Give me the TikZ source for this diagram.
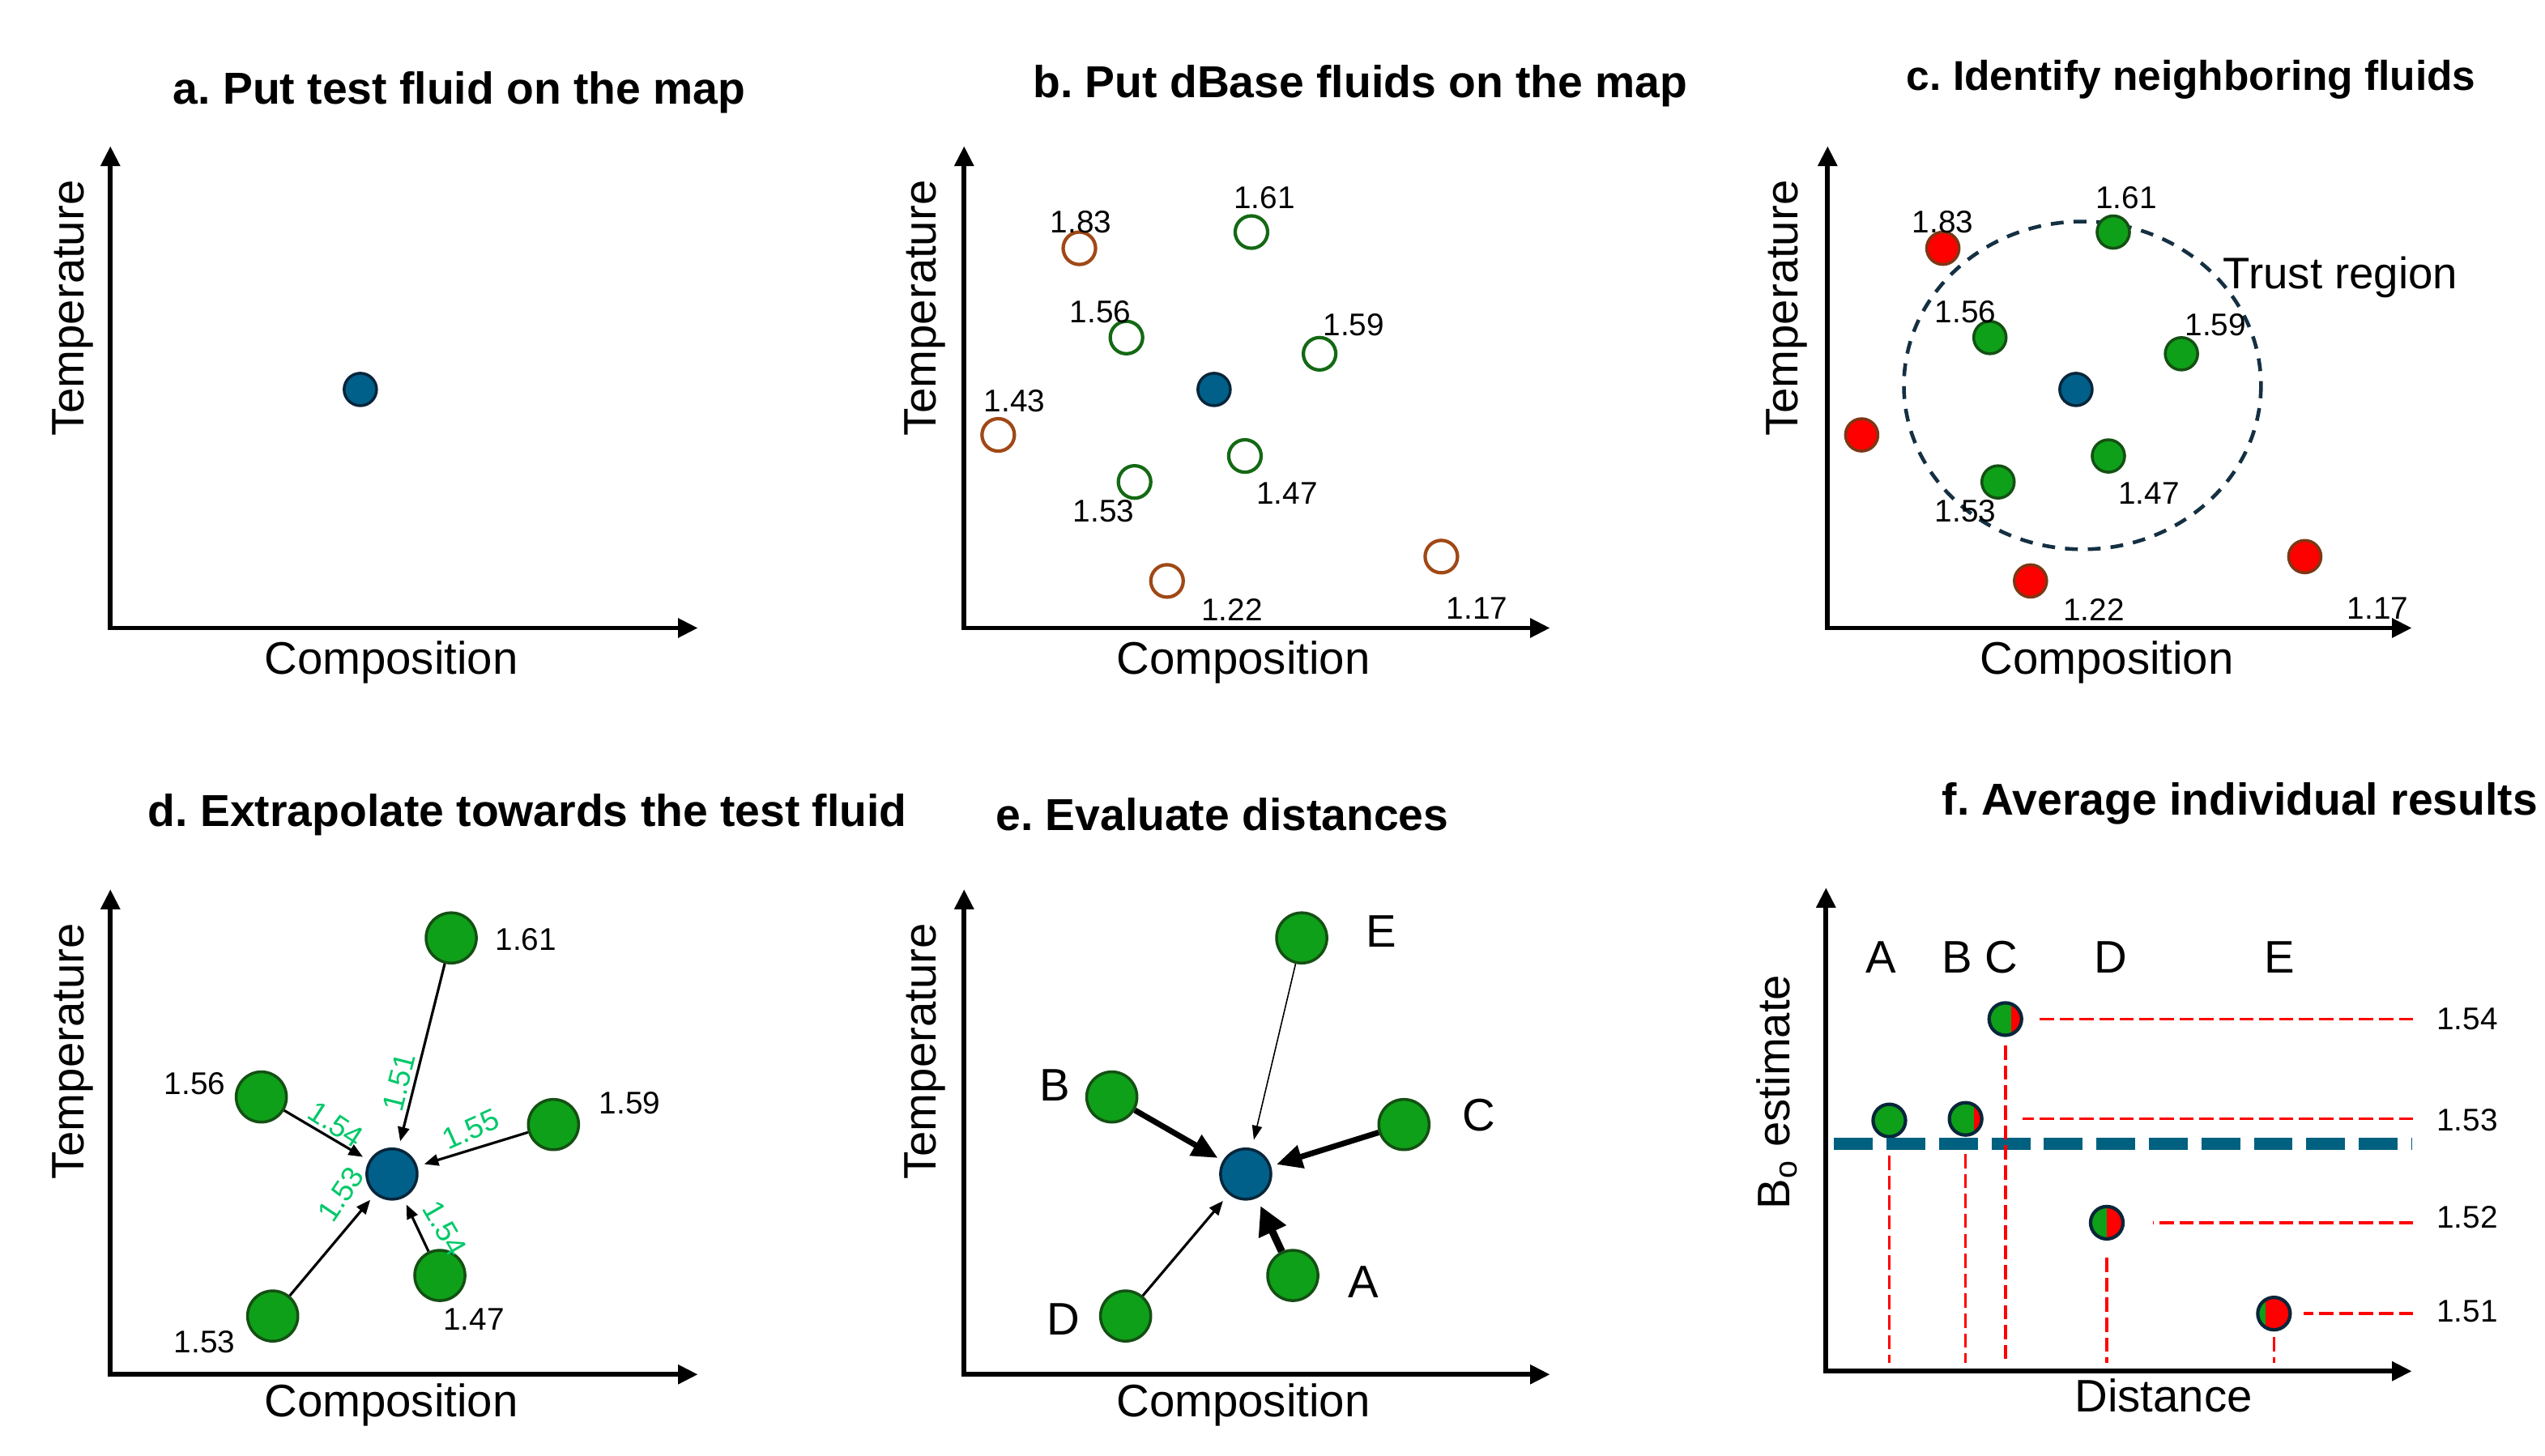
\documentclass[tikz,border=0pt]{standalone}
\usepackage{fontspec}
\setmainfont{Liberation Sans}
\usepackage{tikz}
\usetikzlibrary{arrows.meta}
\usetikzlibrary{positioning}
\frenchspacing

\definecolor{fluidblue}{RGB}{0,96,138}
\definecolor{fluidedge}{RGB}{8,38,58}
\definecolor{dbgreen}{RGB}{20,105,20}
\definecolor{dbbrown}{RGB}{160,72,22}
\definecolor{okgreen}{RGB}{14,160,24}
\definecolor{okedge}{RGB}{20,80,20}
\definecolor{badred}{RGB}{255,0,0}
\definecolor{badedge}{RGB}{125,55,20}
\definecolor{trustline}{RGB}{20,48,66}
\definecolor{estgreen}{RGB}{0,200,105}
\definecolor{avgblue}{RGB}{0,96,128}

\begin{document}
\begin{tikzpicture}[
    x=0.02cm, y=-0.02cm,
    axis/.style={line width=1.7pt, {Triangle[length=7pt,width=6.5pt]}-{Triangle[length=7pt,width=6.5pt]}},
    ptitle/.style={font=\bfseries\fontsize{15.7}{18}\selectfont},
    axlabel/.style={font=\fontsize{16}{19}\selectfont},
    val/.style={font=\fontsize{11}{13}\selectfont, inner sep=1pt},
    est/.style={font=\fontsize{10.5}{12}\selectfont, text=estgreen, inner sep=0pt},
    letter/.style={font=\fontsize{16}{19}\selectfont, inner sep=1pt},
    test/.style={circle, draw=fluidedge, fill=fluidblue, line width=1pt, minimum size=0.4cm, inner sep=0pt},
    bigtest/.style={test, minimum size=0.62cm},
    ringg/.style={circle, draw=dbgreen, line width=1.2pt, fill=white, minimum size=0.4cm, inner sep=0pt},
    ringb/.style={ringg, draw=dbbrown},
    nbrfluid/.style={circle, draw=okedge, fill=okgreen, line width=1pt, minimum size=0.4cm, inner sep=0pt},
    farfluid/.style={nbrfluid, draw=badedge, fill=badred},
    bignbr/.style={nbrfluid, minimum size=0.62cm},
    extra/.style={line width=0.9pt, -{Triangle[length=5pt,width=4pt]}, shorten >=2.5pt},
    pick/.style={circle, draw=fluidedge, fill=okgreen, line width=1.2pt, minimum size=0.4cm, inner sep=0pt},
    mixdot/.style={pick, path picture={
        \fill[badred] ([xshift=#1]path picture bounding box.south) rectangle (path picture bounding box.north east);}},
    lead/.style={draw=badred, line width=1pt, dash pattern=on 5pt off 2pt},
    avg/.style={draw=avgblue, line width=4.4pt, dash pattern=on 13.6pt off 4.8pt}
]
\useasboundingbox (0,0) rectangle (1568,897);

% a. test fluid
\node[ptitle] (ta) at (283,57) {a. Put test fluid on the map};
\coordinate (ay) at (68,90);
\coordinate (ax) at (430,387);
\draw[axis] (ay) |- (ax);
\node[axlabel, rotate=90] (tpa) at (45,190) {Temperature};
\node[axlabel] (cpa) at (241,408) {Composition};
\node[test] (at) at (222,240) {};

% b. database fluids
\node[ptitle] (tb) at (838,53) {b. Put dBase fluids on the map};
\coordinate (by) at (594,90);
\coordinate (bx) at (955,387);
\draw[axis] (by) |- (bx);
\node[axlabel, rotate=90] (tpb) at (570,190) {Temperature};
\node[axlabel] (cpb) at (766,408) {Composition};
\node[ringb] (b83) at (665,153) {};
\node[ringg] (b61) at (771,143) {};
\node[ringg] (b56) at (694,208) {};
\node[ringg] (b59) at (813,218) {};
\node[ringb] (b43) at (615,268) {};
\node[ringg] (b47) at (767,281) {};
\node[ringg] (b53) at (699,297) {};
\node[ringb] (b22) at (719,358) {};
\node[ringb] (b17) at (888,343) {};
\node[test] (bt) at (748,240) {};
\node[val] (lb83) at (666,137) {1.83};
\node[val] (lb61) at (779,122) {1.61};
\node[val] (lb56) at (678,192) {1.56};
\node[val] (lb59) at (834,200) {1.59};
\node[val] (lb43) at (625,247) {1.43};
\node[val] (lb47) at (793,304) {1.47};
\node[val] (lb53) at (680,315) {1.53};
\node[val] (lb22) at (759,376) {1.22};
\node[val] (lb17) at (910,375) {1.17};

% c. neighbours
\node[ptitle, font=\bfseries\fontsize{14.6}{17}\selectfont] (tc) at (1350,49) {c. Identify neighboring fluids};
\coordinate (cy) at (1126,90);
\coordinate (cx) at (1486,387);
\draw[axis] (cy) |- (cx);
\node[axlabel, rotate=90] (tpc) at (1101,190) {Temperature};
\node[axlabel] (cpc) at (1298,408) {Composition};
\draw[trustline, line width=1.3pt, dash pattern=on 4.5pt off 3.5pt] (1283,237.5) ellipse [x radius=110, y radius=101];
\node[farfluid] (c83) at (1197,153) {};
\node[nbrfluid] (c61) at (1302,143) {};
\node[nbrfluid] (c56) at (1226,208) {};
\node[nbrfluid] (c59) at (1344,218) {};
\node[farfluid] (c43) at (1147,268) {};
\node[nbrfluid] (c47) at (1299,281) {};
\node[nbrfluid] (c53) at (1231,297) {};
\node[farfluid] (c22) at (1251,358) {};
\node[farfluid] (c17) at (1420,343) {};
\node[test] (ct) at (1279,240) {};
\node[val] (lc83) at (1197,137) {1.83};
\node[val] (lc61) at (1310,122) {1.61};
\node[val] (lc56) at (1211,192) {1.56};
\node[val] (lc59) at (1365,200) {1.59};
\node[val] (lc47) at (1324,304) {1.47};
\node[val] (lc53) at (1211,315) {1.53};
\node[val] (lc22) at (1290,376) {1.22};
\node[val] (lc17) at (1465,375) {1.17};
\node[axlabel, font=\fontsize{15.5}{18}\selectfont] (trust) at (1442,171) {Trust region};

% d. extrapolation
\node[ptitle] (td) at (325,502) {d. Extrapolate towards the test fluid};
\coordinate (dy) at (68,548);
\coordinate (dx) at (430,847);
\draw[axis] (dy) |- (dx);
\node[axlabel, rotate=90] (tpd) at (45,648) {Temperature};
\node[axlabel] (cpd) at (241,866) {Composition};
\node[bignbr] (d61) at (278,578) {};
\node[bignbr] (d56) at (161,676) {};
\node[bignbr] (d59) at (341,693) {};
\node[bignbr] (d53) at (168,811) {};
\node[bignbr] (d47) at (271,786) {};
\node[bigtest] (dt) at (241.5,723.5) {};
\draw[extra] (d61) -- (dt);
\draw[extra] (d56) -- (dt);
\draw[extra] (d59) -- (dt);
\draw[extra] (d53) -- (dt);
\draw[extra] (d47) -- (dt);
\node[val] (ld61) at (324,579) {1.61};
\node[val] (ld56) at (120,668) {1.56};
\node[val] (ld59) at (388,680) {1.59};
\node[val] (ld53) at (126,827) {1.53};
\node[val] (ld47) at (292,813) {1.47};
\node[est, rotate=76] (e61) at (246,667) {1.51};
\node[est, rotate=-33] (e56) at (207,693) {1.54};
\node[est, rotate=24] (e59) at (290,696) {1.55};
\node[est, rotate=56] (e53) at (210,736) {1.53};
\node[est, rotate=-60] (e47) at (274,757) {1.54};

% e. distances
\node[ptitle] (te) at (753,502) {e. Evaluate distances};
\coordinate (ey) at (594,548);
\coordinate (ex) at (955,847);
\draw[axis] (ey) |- (ex);
\node[axlabel, rotate=90] (tpe) at (570,648) {Temperature};
\node[axlabel] (cpe) at (766,866) {Composition};
\node[bignbr] (eE) at (802,578) {};
\node[bignbr] (eB) at (685,676) {};
\node[bignbr] (eC) at (865,693) {};
\node[bignbr] (eD) at (693.5,811) {};
\node[bignbr] (eA) at (796.5,786) {};
\node[bigtest] (et) at (767.5,723.5) {};
\draw[line width=0.45pt, -{Triangle[length=5pt,width=3.5pt]}, shorten >=3pt] (eE) -- (et);
\draw[line width=2pt, -{Triangle[length=9pt,width=8pt]}, shorten >=2pt] (eB) -- (et);
\draw[line width=2pt, -{Triangle[length=9pt,width=8pt]}, shorten >=2pt] (eC) -- (et);
\draw[line width=0.9pt, -{Triangle[length=5pt,width=4pt]}, shorten >=3pt] (eD) -- (et);
\draw[line width=2.6pt, -{Triangle[length=10pt,width=10pt]}, shorten >=3pt] (eA) -- (et);
\node[letter] (lE) at (851,574) {E};
\node[letter] (lB) at (650,669) {B};
\node[letter] (lC) at (911,687) {C};
\node[letter] (lD) at (655,813) {D};
\node[letter] (lA) at (840,790) {A};

% f. averaging
\node[ptitle] (tf) at (1380,495) {f. Average individual results};
\coordinate (fy) at (1125,547);
\coordinate (fx) at (1486,845);
\draw[axis] (fy) |- (fx);
\node[axlabel, rotate=90] (bof) at (1095,673) {B\textsubscript{o} estimate};
\node[axlabel] (dsf) at (1333,860) {Distance};
\node[letter] (fa) at (1159,590) {A};
\node[letter] (fb) at (1206,590) {B};
\node[letter] (fc) at (1233,590) {C};
\node[letter] (fd) at (1300.5,590) {D};
\node[letter] (fe) at (1404.5,590) {E};
\node[pick] (fA) at (1164,690.5) {};
\node[mixdot=3pt] (fB) at (1211,689.5) {};
\node[mixdot=2pt] (fC) at (1235.5,628) {};
\node[mixdot=0pt] (fD) at (1298,753.5) {};
\node[mixdot=-3pt] (fE) at (1401,809.5) {};
\coordinate (avgl) at (1130,705);
\coordinate (avgr) at (1486,705);
\draw[avg] (avgl) -- (avgr);
\node[val] (v54) at (1520,628) {1.54};
\node[val] (v53) at (1520,690) {1.53};
\node[val] (v52) at (1520,750) {1.52};
\node[val] (v51) at (1520,808) {1.51};
\draw[lead, shorten <=7pt, shorten >=2pt] (v54.west |- fC) -- ([xshift=2pt]fC.east);
\draw[lead, shorten <=7pt] (v53.west |- fB) -- ++(-253,0);
\draw[lead, shorten <=7pt, shorten >=10pt] (v52.west |- fD) -- (fD.east);
\draw[lead, shorten <=7pt, shorten >=4pt] (v51.west |- fE) -- (fE.east);
\draw[lead, shorten <=6pt, shorten >=3pt] (fA.south) -- (fA |- fx);
\draw[lead, shorten <=6pt, shorten >=3pt] (fB.south) -- (fB |- fx);
\draw[lead, shorten <=3pt, shorten >=3pt] (fC.south) -- (fC |- fx);
\draw[lead, shorten <=6pt, shorten >=3pt] (fD.south) -- (fD |- fx);
\draw[lead, shorten <=2pt, shorten >=3pt] (fE.south) -- (fE |- fx);

\end{tikzpicture}
\end{document}
